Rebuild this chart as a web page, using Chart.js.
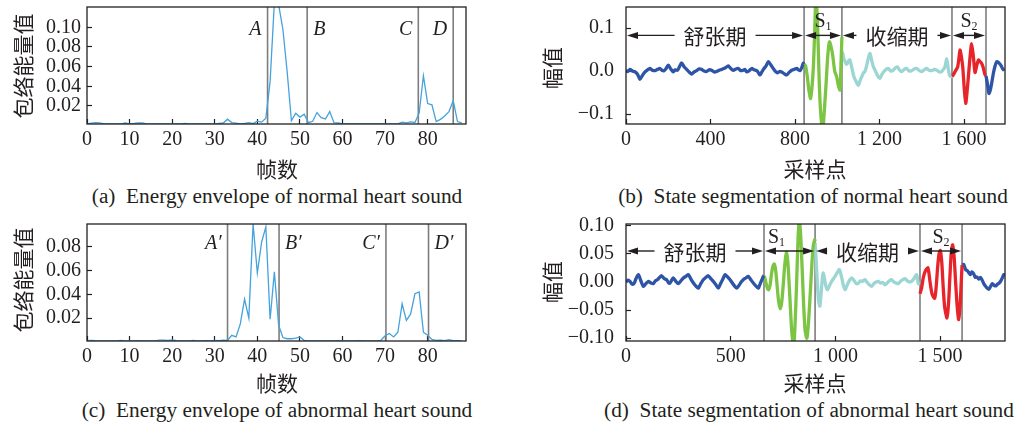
<!DOCTYPE html>
<html><head><meta charset="utf-8">
<script src="https://cdn.jsdelivr.net/npm/chart.js@4.4.1/dist/chart.umd.min.js"></script>
<style>
html,body{margin:0;padding:0;background:#fff;}
body{width:1024px;height:424px;position:relative;overflow:hidden;}
canvas{position:absolute;}
.t{position:absolute;white-space:pre;color:#231f20;transform:translate(-50%,-50%);line-height:1;}
.cjk{font-family:"Noto Sans CJK SC";font-size:21px;}
.cap{font-family:"Liberation Serif";font-size:21.3px;}
.rot{transform:translate(-50%,-50%) rotate(-90deg);}
</style></head><body>
<canvas id="ca" width="512" height="160" style="left:0;top:0"></canvas>
<canvas id="cb" width="512" height="160" style="left:512px;top:0"></canvas>
<canvas id="cc" width="512" height="160" style="left:0;top:217px"></canvas>
<canvas id="cd" width="512" height="160" style="left:512px;top:217px"></canvas>

<div class="t cjk rot" style="left:22px;top:66px">包络能量值</div>
<div class="t cjk" style="left:277px;top:168px">帧数</div>
<div class="t cap" style="left:277px;top:197px">(a)  Energy envelope of normal heart sound</div>
<div class="t cjk rot" style="left:551px;top:68px">幅值</div>
<div class="t cjk" style="left:815px;top:168px">采样点</div>
<div class="t cap" style="left:813px;top:197px">(b)  State segmentation of normal heart sound</div>
<div class="t cjk rot" style="left:22px;top:280px">包络能量值</div>
<div class="t cjk" style="left:277px;top:382px">帧数</div>
<div class="t cap" style="left:277px;top:411px">(c)  Energy envelope of abnormal heart sound</div>
<div class="t cjk rot" style="left:551px;top:282px">幅值</div>
<div class="t cjk" style="left:815px;top:382px">采样点</div>
<div class="t cap" style="left:809px;top:411px">(d)  State segmentation of abnormal heart sound</div>

<script>
// ---------- DATA ----------
const frameIndex = [0,1,2,3,4,5,6,7,8,9,10,11,12,13,14,15,16,17,18,19,20,21,22,23,24,25,26,27,28,29,30,31,32,33,34,35,36,37,38,39,40,41,42,43,44,45,46,47,48,49,50,51,52,53,54,55,56,57,58,59,60,61,62,63,64,65,66,67,68,69,70,71,72,73,74,75,76,77,78,79,80,81,82,83,84,85,86,87,88];
const normalEnvelope = [0.0019,0.0026,0.0031,0.0029,0.0019,0.0018,0.0018,0.0018,0.0019,0.0027,
 0.0018,0.0022,0.0028,0.0027,0.0019,0.0018,0.0018,0.0018,0.0018,0.0018,
 0.0018,0.0018,0.0019,0.0024,0.0018,0.0018,0.0018,0.0018,0.0018,0.0018,
 0.0019,0.0023,0.0027,0.0066,0.0031,0.0026,0.0019,0.0023,0.0031,0.0021,
 0.0046,0.0036,0.0076,0.045,0.125,0.123,0.098,0.055,0.005,0.0125,
 0.0087,0.0116,0.0031,0.0045,0.0133,0.0082,0.0068,0.0143,0.0031,0.0027,
 0.0019,0.0018,0.0018,0.0018,0.0018,0.0018,0.0018,0.0018,0.0018,0.0018,
 0.0018,0.0018,0.0018,0.0018,0.0036,0.0029,0.0039,0.0033,0.0127,0.0507,
 0.0225,0.0212,0.0042,0.0064,0.0098,0.0143,0.0255,0.0042,0.0028];
const abnormalEnvelope = [0.0008,0.0012,0.0009,0.0007,0.0007,0.0007,0.0007,0.0007,0.0010,0.0007,
 0.0007,0.0007,0.0009,0.0007,0.0007,0.0007,0.0007,0.0013,0.0014,0.0011,
 0.0016,0.0009,0.0007,0.0007,0.0007,0.0011,0.0007,0.0007,0.0009,0.0007,
 0.0012,0.0010,0.0014,0.0012,0.0054,0.0040,0.015,0.036,0.020,0.0994,
 0.058,0.084,0.097,0.019,0.059,0.014,0.0035,0.0025,0.0025,0.0030,
 0.0040,0.0012,0.0007,0.0007,0.0007,0.0007,0.0007,0.0007,0.0007,0.0009,
 0.0007,0.0007,0.0007,0.0007,0.0009,0.0007,0.0007,0.0007,0.0007,0.0012,
 0.0050,0.0070,0.0040,0.0080,0.032,0.018,0.0235,0.0405,0.042,0.0080,
 0.0055,0.0020,0.0012,0.0013,0.0009,0.0018,0.0009,0.0008,0.0007];
const normalEnvBounds = [42.4, 51.7, 77.8, 86];
const normalEnvBoundNames = ['A','B','C','D'];
const abnormalEnvBounds = [33, 45.1, 70.2, 80.2];
const abnormalEnvBoundNames = ['A\u2032','B\u2032','C\u2032','D\u2032'];
const envXTicks = [0,10,20,30,40,50,60,70,80];
const envXTickLabels = ['0','10','20','30','40','50','60','70','80'];
const normalEnvYTicks = [0.02,0.04,0.06,0.08,0.10];
const normalEnvYTickLabels = ['0.02','0.04','0.06','0.08','0.10'];
const abnormalEnvYTicks = [0.02,0.04,0.06,0.08];
const abnormalEnvYTickLabels = ['0.02','0.04','0.06','0.08'];

// normal heart sound waveform segments [sample, amplitude]
const normalDiastole = [[0,0.002],[8,-0.001],[19,0.004],[30,0.0],[43,-0.002],[55,-0.008],[66,-0.019],[78,-0.010],[90,-0.002],[102,0.003],[114,0.006],[125,0.002],[137,0.001],[149,0.004],[161,0.006],[170,0.002],[180,0.001],[190,0.006],[200,0.014],[212,0.005],[224,-0.002],[233,0.003],[243,0.002],[253,0.010],[263,0.019],[275,0.010],[287,0.004],[299,-0.002],[311,-0.007],[322,-0.002],[334,0.001],[346,0.005],[358,0.004],[370,0.0],[382,-0.001],[393,0.003],[405,0.002],[417,-0.002],[429,-0.001],[441,0.002],[453,0.004],[468,0.007],[484,0.012],[496,0.006],[508,0.002],[520,0.005],[532,0.006],[543,0.001],[555,0.002],[563,0.004],[571,-0.002],[583,0.001],[595,0.006],[607,0.003],[619,0.001],[627,-0.004],[634,-0.009],[643,-0.002],[653,0.006],[663,0.012],[674,0.022],[686,0.014],[697,0.006],[706,0.0],[716,-0.004],[727,-0.001],[737,-0.002],[749,-0.006],[761,-0.009],[772,-0.003],[784,0.002],[796,0.004],[808,0.006],[816,0.003],[824,0.001],[832,0.008],[839,0.018],[843,0.016]];
const normalS1 = [[843,0.016],[850,0.012],[858,-0.012],[866,-0.045],[874,-0.064],[880,-0.04],[887,0.01],[893,0.09],[899,0.17],[906,0.12],[915,-0.03],[922,-0.1],[931,-0.14],[939,-0.09],[947,-0.03],[955,0.035],[963,0.068],[970,0.058],[978,0.038],[988,0.0],[997,-0.013],[1006,-0.035],[1013,-0.044],[1018,0.02],[1022,0.08]];
const normalSystole = [[1022,0.045],[1026,0.041],[1032,0.028],[1037,0.022],[1043,0.016],[1048,0.018],[1054,0.024],[1060,0.026],[1068,0.01],[1079,-0.013],[1090,-0.025],[1100,-0.033],[1108,-0.022],[1116,-0.013],[1124,-0.004],[1131,-0.001],[1140,0.015],[1148,0.032],[1155,0.041],[1163,0.025],[1171,0.01],[1179,0.002],[1190,-0.01],[1202,-0.017],[1211,-0.008],[1221,-0.001],[1231,0.004],[1242,0.006],[1253,0.0],[1265,0.002],[1274,0.007],[1284,0.01],[1294,0.003],[1305,-0.001],[1317,0.004],[1329,0.006],[1340,0.0],[1352,0.001],[1364,0.005],[1376,0.006],[1388,0.001],[1400,-0.001],[1411,0.003],[1423,0.006],[1435,0.002],[1447,0.001],[1459,0.004],[1471,0.002],[1483,-0.002],[1494,-0.001],[1502,0.004],[1510,0.01],[1518,0.029],[1524,0.01],[1531,-0.009],[1540,-0.013],[1543,-0.012]];
const normalS2 = [[1543,-0.013],[1550,-0.008],[1558,-0.001],[1564,0.004],[1570,0.01],[1576,0.03],[1581,0.049],[1587,0.035],[1594,0.01],[1601,-0.04],[1608,-0.075],[1615,-0.045],[1622,-0.005],[1629,0.035],[1636,0.064],[1644,0.035],[1652,-0.003],[1660,0.012],[1668,0.026],[1676,0.022],[1683,0.018],[1691,0.008],[1699,-0.008],[1704,-0.01]];
const normalDiastole2 = [[1704,-0.011],[1711,-0.03],[1718,-0.052],[1724,-0.045],[1731,-0.028],[1739,-0.005],[1747,0.012],[1755,0.022],[1763,0.02],[1774,0.014],[1782,0.006],[1790,0.001]];
const normalPhaseEdges = [0, 843, 1022, 1543, 1704];
const normalPhaseNames = ['舒张期','S1','收缩期','S2'];

// abnormal heart sound waveform segments
const abnormalDiastole = [[0,0.0],[10,0.003],[19,0.001],[29,-0.004],[38,-0.003],[48,0.006],[59,0.013],[70,0.003],[83,-0.008],[95,-0.003],[107,0.001],[119,-0.002],[131,-0.003],[140,0.002],[150,0.004],[160,0.008],[170,0.011],[182,0.006],[194,0.004],[202,-0.001],[210,-0.002],[218,0.003],[226,0.007],[238,0.001],[250,-0.003],[262,0.002],[274,0.007],[286,0.01],[298,0.013],[310,0.005],[322,-0.002],[333,-0.007],[345,-0.011],[357,-0.003],[369,0.004],[381,0.008],[393,0.011],[405,0.006],[417,0.001],[429,-0.005],[441,-0.011],[449,-0.005],[457,0.001],[465,0.007],[473,0.013],[485,0.009],[497,0.004],[508,-0.002],[518,-0.007],[529,-0.011],[540,-0.006],[550,0.0],[560,0.004],[572,0.007],[584,0.01],[596,0.004],[608,-0.002],[620,-0.007],[632,-0.011],[640,-0.004],[648,0.003],[656,0.01],[659,0.011]];
const abnormalS1 = [[659,0.011],[664,0.006],[670,-0.004],[676,-0.012],[681,-0.014],[688,-0.006],[694,0.012],[701,0.027],[708,0.032],[715,0.02],[722,-0.008],[729,-0.035],[737,-0.048],[744,-0.035],[751,-0.005],[758,0.03],[766,0.053],[773,0.035],[783,-0.03],[792,-0.09],[801,-0.115],[808,-0.07],[815,0.0],[822,0.08],[828,0.11],[836,0.07],[846,-0.02],[855,-0.085],[864,-0.1],[872,-0.07],[883,0.0],[893,0.06],[901,0.075],[903,0.072]];
const abnormalSystole = [[903,0.07],[908,0.04],[915,-0.01],[920,-0.035],[926,-0.043],[933,-0.015],[938,0.008],[942,0.016],[948,0.006],[955,-0.008],[962,-0.014],[970,-0.008],[982,0.001],[995,0.008],[1008,0.016],[1019,0.022],[1030,0.008],[1038,-0.006],[1046,-0.014],[1056,-0.006],[1066,0.002],[1078,0.007],[1090,0.002],[1100,-0.003],[1110,-0.002],[1120,0.002],[1130,0.001],[1141,0.004],[1152,-0.001],[1162,-0.005],[1173,-0.008],[1184,-0.003],[1195,0.0],[1205,0.001],[1215,-0.002],[1226,-0.001],[1237,-0.005],[1247,-0.002],[1258,0.002],[1268,0.004],[1279,0.0],[1290,-0.002],[1300,-0.003],[1311,0.001],[1321,0.004],[1332,0.006],[1343,0.002],[1354,0.0],[1364,0.001],[1376,0.006],[1388,0.013],[1396,-0.003],[1404,-0.004]];
const abnormalS2 = [[1404,-0.021],[1412,-0.01],[1420,0.008],[1430,0.02],[1442,0.025],[1452,0.0],[1462,-0.022],[1474,-0.029],[1481,-0.01],[1488,0.025],[1495,0.05],[1501,0.056],[1508,0.035],[1515,-0.01],[1522,-0.045],[1533,-0.064],[1540,-0.04],[1547,0.01],[1553,0.05],[1560,0.066],[1567,0.045],[1574,0.0],[1582,-0.045],[1589,-0.067],[1596,-0.04],[1601,0.0],[1605,0.03]];
const abnormalDiastole2 = [[1605,0.03],[1613,0.031],[1622,0.022],[1630,0.02],[1638,0.016],[1644,0.013],[1652,0.018],[1660,0.015],[1668,0.008],[1676,0.009],[1684,0.005],[1692,0.008],[1700,0.004],[1710,-0.004],[1720,-0.009],[1732,-0.013],[1741,-0.008],[1750,-0.003],[1758,-0.006],[1766,-0.007],[1774,-0.004],[1782,-0.002],[1790,0.002],[1798,0.008],[1804,0.013],[1810,0.01]];
const abnormalPhaseEdges = [0, 659, 903, 1404, 1605];
const abnormalPhaseNames = ['舒张期','S1','收缩期','S2'];

const normalWaveXTicks = [0,400,800,1200,1600];
const normalWaveXTickLabels = ['0','400','800','1 200','1 600'];
const normalWaveYTicks = [-0.1,0,0.1];
const normalWaveYTickLabels = ['\u22120.1','0.0','0.1'];
const abnormalWaveXTicks = [0,500,1000,1500];
const abnormalWaveXTickLabels = ['0','500','1 000','1 500'];
const abnormalWaveYTicks = [-0.10,-0.05,0,0.05,0.10];
const abnormalWaveYTickLabels = ['\u22120.10','\u22120.05','0.00','0.05','0.10'];

// ---------- RENDERING ----------
const INK = '#231f20';
const SERIF = 'Liberation Serif';
const COL = {blue:'#2d54a6', green:'#7cc443', cyan:'#9bd6d3', red:'#e8242b', env:'#44a2dc', bound:'#7d7d7d'};

const decor = {
  id: 'decor',
  beforeDatasetsDraw(chart, args, o) {
    const {ctx, chartArea: ca} = chart; const x = chart.scales.x;
    ctx.save();
    ctx.strokeStyle = COL.bound; ctx.lineWidth = 1.6;
    (o.bounds || []).forEach(b => {
      const px = x.getPixelForValue(b);
      ctx.beginPath(); ctx.moveTo(px, ca.top); ctx.lineTo(px, ca.bottom); ctx.stroke();
    });
    ctx.restore();
  },
  afterDatasetsDraw(chart, args, o) {
    const {ctx, chartArea: ca} = chart; const x = chart.scales.x, y = chart.scales.y;
    ctx.save();
    ctx.strokeStyle = INK; ctx.lineWidth = 1.3;
    ctx.strokeRect(ca.left, ca.top, ca.width, ca.height);
    ctx.fillStyle = INK;
    if (o.boundNames) {
      ctx.font = 'italic 20px "' + SERIF + '"';
      ctx.textBaseline = 'middle';
      o.bounds.forEach((b, i) => {
        const px = x.getPixelForValue(b);
        const side = o.sides[i];
        ctx.textAlign = side < 0 ? 'right' : 'left';
        ctx.fillText(o.boundNames[i], px + side * 6, ca.top + o.labelDy);
      });
    }
    if (o.phaseEdges) {
      const ay = y.getPixelForValue(o.arrowY);
      ctx.lineWidth = 1.4; ctx.strokeStyle = INK;
      const head = (px, dir) => {
        ctx.beginPath(); ctx.moveTo(px, ay); ctx.lineTo(px - dir * 11, ay - 3.5); ctx.lineTo(px - dir * 11, ay + 3.5); ctx.closePath(); ctx.fill();
      };
      const seg = (a, b) => { ctx.beginPath(); ctx.moveTo(a, ay); ctx.lineTo(b, ay); ctx.stroke(); };
      o.phaseNames.forEach((name, i) => {
        const x0 = x.getPixelForValue(o.phaseEdges[i]) + 1;
        const x1 = x.getPixelForValue(o.phaseEdges[i + 1]) - 1;
        const mid = (x0 + x1) / 2;
        head(x0, -1); head(x1, 1);
        if (name[0] === 'S') {
          seg(x0 + 6, x1 - 6);
          const cx = mid + (o.sDx ? o.sDx[i] : 0);
          ctx.font = '20px "' + SERIF + '"';
          ctx.textBaseline = 'alphabetic'; ctx.textAlign = 'left';
          const ws = ctx.measureText('S').width;
          ctx.font = '12px "' + SERIF + '"';
          const wn = ctx.measureText(name.slice(1)).width;
          const left = cx - (ws + wn) / 2;
          ctx.font = '20px "' + SERIF + '"';
          ctx.fillText('S', left, ay - 8);
          ctx.font = '12px "' + SERIF + '"';
          ctx.fillText(name.slice(1), left + ws, ay - 5);
        } else {
          ctx.font = '21px "Noto Sans CJK SC"';
          const w = ctx.measureText(name).width;
          ctx.textAlign = 'center'; ctx.textBaseline = 'middle';
          ctx.fillText(name, mid, ay + 1);
          seg(x0 + 6, mid - w / 2 - o.gap);
          seg(mid + w / 2 + o.gap, x1 - 6);
        }
      });
    }
    ctx.restore();
  }
};

function pts(arr) { return arr.map(p => ({x: p[0], y: p[1]})); }

function axes(xr, yr, yw, xt, xtl, yt, ytl, ypad) {
  const tickFont = {family: SERIF, size: 20};
  return {
    x: {
      type: 'linear', min: xr[0], max: xr[1],
      afterBuildTicks: s => { s.ticks = xt.map(v => ({value: v})); },
      afterFit: s => { s.height = 36; s.paddingLeft = 0; s.paddingRight = 0; },
      ticks: {font: tickFont, color: INK, padding: 9, maxRotation: 0, autoSkip: false, callback: (v, i) => xtl[i]},
      grid: {drawOnChartArea: false, drawTicks: true, tickLength: -5, tickColor: INK, tickWidth: 1.2},
      border: {display: false}
    },
    y: {
      type: 'linear', min: yr[0], max: yr[1],
      afterBuildTicks: s => { s.ticks = yt.map(v => ({value: v})); },
      afterFit: s => { s.width = yw; s.paddingTop = 0; s.paddingBottom = 0; },
      ticks: {font: tickFont, color: INK, padding: ypad, autoSkip: false, callback: (v, i) => ytl[i]},
      grid: {drawOnChartArea: false, drawTicks: true, tickLength: -5, tickColor: INK, tickWidth: 1.2},
      border: {display: false}
    }
  };
}

const base = (rightPad) => ({
  responsive: false, animation: false, events: [],
  layout: {padding: {left: 0, top: 7, right: rightPad, bottom: 0}, autoPadding: false},
  plugins: {legend: {display: false}, tooltip: {enabled: false}}
});

function envChart(id, values, bounds, names, sides, yMax, yMin, yt, ytl, labelDy) {
  const opts = base(46);
  opts.scales = axes([0, 89], [yMin, yMax], 87, envXTicks, envXTickLabels, yt, ytl, 11);
  opts.plugins.decor = {bounds, boundNames: names, sides, labelDy};
  new Chart(document.getElementById(id), {
    type: 'line',
    data: {datasets: [{data: frameIndex.map((f, i) => ({x: f, y: values[i]})), borderColor: COL.env, borderWidth: 1.3, pointRadius: 0, tension: 0}]},
    options: opts, plugins: [decor]
  });
}

function waveChart(id, segs, edges, names, yr, xr, xt, xtl, yt, ytl, arrowY, sDx) {
  const opts = base(19);
  opts.scales = axes(xr, yr, 114, xt, xtl, yt, ytl, 17);
  opts.plugins.decor = {bounds: edges.slice(1), phaseEdges: edges, phaseNames: names, arrowY, gap: 9, sDx};
  const cols = [COL.blue, COL.green, COL.cyan, COL.red, COL.blue];
  new Chart(document.getElementById(id), {
    type: 'line',
    data: {datasets: segs.map((s, i) => ({data: pts(s), borderColor: cols[i], borderWidth: 3.3, pointRadius: 0, tension: 0.25}))},
    options: opts, plugins: [decor]
  });
}

envChart('ca', normalEnvelope, normalEnvBounds, normalEnvBoundNames, [-1, 1, -1, -1], 0.1206, 0.0017, normalEnvYTicks, normalEnvYTickLabels, 23);
envChart('cc', abnormalEnvelope, abnormalEnvBounds, abnormalEnvBoundNames, [-1, 1, -1, 1], 0.0994, 0.0006, abnormalEnvYTicks, abnormalEnvYTickLabels, 20);
waveChart('cb', [normalDiastole, normalS1, normalSystole, normalS2, normalDiastole2], normalPhaseEdges, normalPhaseNames,
  [-0.123, 0.149], [0, 1794], normalWaveXTicks, normalWaveXTickLabels, normalWaveYTicks, normalWaveYTickLabels, 0.083, [0, 0, 0, 0]);
waveChart('cd', [abnormalDiastole, abnormalS1, abnormalSystole, abnormalS2, abnormalDiastole2], abnormalPhaseEdges, abnormalPhaseNames,
  [-0.105, 0.103], [0, 1810], abnormalWaveXTicks, abnormalWaveXTickLabels, abnormalWaveYTicks, abnormalWaveYTickLabels, 0.055, [0, -13, 0, 0]);
</script>
</body></html>
